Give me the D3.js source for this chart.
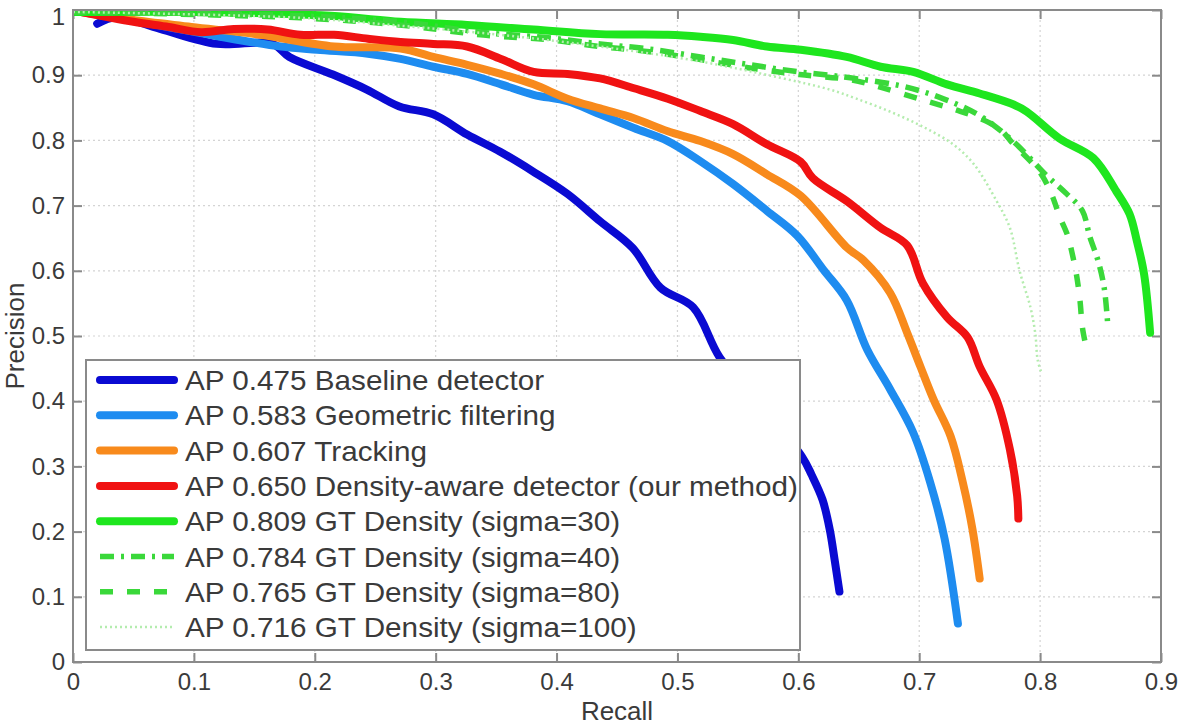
<!DOCTYPE html>
<html>
<head>
<meta charset="utf-8">
<script src="https://cdn.jsdelivr.net/npm/d3@7"></script>
<style>
html,body{margin:0;padding:0;background:#fff;}
svg text{font-family:"Liberation Sans",Arial,Helvetica,sans-serif;}
</style>
</head>
<body>
<svg id="chart" width="1181" height="727"></svg>
<script>
// ---------- data ----------
const xTicks = [0,0.1,0.2,0.3,0.4,0.5,0.6,0.7,0.8,0.9];
const xTickLabels = ["0","0.1","0.2","0.3","0.4","0.5","0.6","0.7","0.8","0.9"];
const yTicks = [0,0.1,0.2,0.3,0.4,0.5,0.6,0.7,0.8,0.9,1];
const yTickLabels = ["0","0.1","0.2","0.3","0.4","0.5","0.6","0.7","0.8","0.9","1"];
const xLabel = "Recall";
const yLabel = "Precision";

const seriesNames = [
  "AP 0.475 Baseline detector",
  "AP 0.583 Geometric filtering",
  "AP 0.607 Tracking",
  "AP 0.650 Density-aware detector (our method)",
  "AP 0.809 GT Density (sigma=30)",
  "AP 0.784 GT Density (sigma=40)",
  "AP 0.765 GT Density (sigma=80)",
  "AP 0.716 GT Density (sigma=100)"
];

const baseline = [[0.020,0.979],[0.036,0.989],[0.072,0.971],[0.119,0.948],[0.165,0.948],[0.179,0.928],[0.215,0.901],[0.243,0.878],[0.270,0.852],[0.298,0.840],[0.326,0.809],[0.353,0.783],[0.380,0.753],[0.409,0.718],[0.436,0.676],[0.463,0.635],[0.486,0.574],[0.513,0.544],[0.535,0.467],[0.568,0.394],[0.603,0.315],[0.611,0.287],[0.620,0.249],[0.626,0.203],[0.630,0.157],[0.634,0.108]];
const geometric = [[0.007,0.997],[0.064,0.979],[0.122,0.959],[0.172,0.944],[0.202,0.939],[0.244,0.933],[0.271,0.925],[0.298,0.913],[0.326,0.902],[0.354,0.886],[0.381,0.870],[0.409,0.860],[0.436,0.840],[0.464,0.819],[0.492,0.799],[0.519,0.768],[0.546,0.733],[0.574,0.692],[0.599,0.654],[0.621,0.601],[0.640,0.555],[0.657,0.479],[0.676,0.418],[0.695,0.352],[0.709,0.276],[0.721,0.189],[0.732,0.059]];
const tracking = [[0.007,0.997],[0.048,0.985],[0.098,0.974],[0.155,0.962],[0.216,0.944],[0.271,0.941],[0.298,0.928],[0.326,0.916],[0.354,0.902],[0.381,0.886],[0.409,0.864],[0.436,0.849],[0.464,0.834],[0.492,0.814],[0.519,0.799],[0.546,0.779],[0.574,0.748],[0.602,0.715],[0.640,0.636],[0.654,0.616],[0.676,0.566],[0.690,0.505],[0.701,0.453],[0.712,0.402],[0.726,0.346],[0.736,0.276],[0.744,0.204],[0.750,0.128]];
const densityAware = [[0.007,0.997],[0.050,0.982],[0.079,0.974],[0.106,0.966],[0.133,0.971],[0.161,0.970],[0.188,0.962],[0.216,0.962],[0.244,0.956],[0.271,0.951],[0.298,0.948],[0.326,0.944],[0.354,0.925],[0.381,0.905],[0.409,0.902],[0.436,0.895],[0.464,0.880],[0.492,0.864],[0.519,0.845],[0.546,0.825],[0.574,0.794],[0.602,0.767],[0.612,0.742],[0.640,0.707],[0.668,0.666],[0.690,0.639],[0.703,0.581],[0.723,0.529],[0.740,0.498],[0.750,0.453],[0.764,0.402],[0.775,0.326],[0.781,0.255],[0.782,0.220]];
const gtSigma30 = [[0.001,0.997],[0.106,0.997],[0.213,0.991],[0.271,0.982],[0.326,0.977],[0.381,0.970],[0.436,0.963],[0.492,0.962],[0.519,0.959],[0.546,0.954],[0.574,0.944],[0.602,0.939],[0.640,0.928],[0.668,0.913],[0.695,0.905],[0.723,0.886],[0.750,0.872],[0.778,0.855],[0.789,0.844],[0.816,0.803],[0.844,0.773],[0.863,0.722],[0.874,0.687],[0.880,0.646],[0.886,0.595],[0.891,0.505]];
const gtSigma40 = [[0.000,0.997],[0.188,0.991],[0.270,0.982],[0.337,0.966],[0.395,0.957],[0.436,0.948],[0.477,0.940],[0.519,0.928],[0.560,0.916],[0.601,0.905],[0.643,0.896],[0.684,0.884],[0.717,0.866],[0.750,0.838],[0.778,0.798],[0.806,0.745],[0.822,0.718],[0.835,0.692],[0.841,0.653],[0.848,0.615],[0.853,0.574],[0.856,0.516]];
const gtSigma80 = [[0.000,0.997],[0.188,0.988],[0.270,0.977],[0.337,0.962],[0.395,0.954],[0.436,0.944],[0.477,0.936],[0.519,0.924],[0.560,0.911],[0.601,0.901],[0.643,0.893],[0.667,0.882],[0.701,0.863],[0.730,0.847],[0.750,0.834],[0.767,0.817],[0.778,0.794],[0.792,0.768],[0.802,0.745],[0.810,0.715],[0.816,0.684],[0.823,0.653],[0.826,0.631],[0.830,0.595],[0.833,0.554],[0.835,0.513],[0.839,0.475]];
const gtSigma100 = [[0.000,0.997],[0.188,0.988],[0.270,0.976],[0.353,0.962],[0.436,0.944],[0.519,0.921],[0.585,0.896],[0.626,0.878],[0.648,0.864],[0.676,0.844],[0.703,0.821],[0.728,0.794],[0.745,0.764],[0.764,0.707],[0.775,0.666],[0.783,0.600],[0.792,0.544],[0.796,0.504],[0.798,0.463],[0.801,0.444]];

const seriesData = [baseline, geometric, tracking, densityAware, gtSigma30, gtSigma40, gtSigma80, gtSigma100];

// ---------- styles ----------
const styles = [
  {color:"#0a0ad2", width:8, dash:null},
  {color:"#1e8cf0", width:8, dash:null},
  {color:"#f88a1c", width:8, dash:null},
  {color:"#f01212", width:8, dash:null},
  {color:"#1ee61e", width:8, dash:null},
  {color:"#3ad83a", width:5.5, dash:"14,7,3,7"},
  {color:"#3ad83a", width:5.5, dash:"13,14"},
  {color:"#b4ecae", width:2.5, dash:"2,3"}
];

// ---------- layout ----------
const svg = d3.select("#chart");
const L = 73, R = 1161, T = 10, B = 662;
const x = d3.scaleLinear().domain([0,0.9]).range([L,R]);
const y = d3.scaleLinear().domain([0,1]).range([B,T]);
const axisColor = "#8a8a8a";
const textColor = "#3a3a3a";

svg.append("defs").append("clipPath").attr("id","plotclip")
  .append("rect").attr("x",L).attr("y",T).attr("width",R-L).attr("height",B-T);

// grid
const grid = svg.append("g");
grid.selectAll("line.gx").data(xTicks.slice(1,-1)).enter().append("line")
  .attr("x1",d=>x(d)).attr("x2",d=>x(d)).attr("y1",T).attr("y2",B)
  .attr("stroke","#d4d4d4").attr("stroke-width",1.2).attr("stroke-dasharray","2,3");
grid.selectAll("line.gy").data(yTicks.slice(1,-1)).enter().append("line")
  .attr("y1",d=>y(d)).attr("y2",d=>y(d)).attr("x1",L).attr("x2",R)
  .attr("stroke","#d4d4d4").attr("stroke-width",1.2).attr("stroke-dasharray","2,3");

// axes
function styleAxis(g){
  g.select(".domain").remove();
  g.selectAll(".tick line").attr("stroke",axisColor).attr("stroke-width",2);
  g.selectAll(".tick text").attr("fill",textColor).style("font-size","24px");
}
const xAxisB = d3.axisBottom(x).tickValues(xTicks).tickFormat((d,i)=>xTickLabels[i]).tickSizeInner(-9).tickSizeOuter(0).tickPadding(11);
svg.append("g").attr("transform",`translate(0,${B})`).call(xAxisB).call(styleAxis);
const xAxisT = d3.axisTop(x).tickValues(xTicks).tickFormat("").tickSizeInner(-9).tickSizeOuter(0);
svg.append("g").attr("transform",`translate(0,${T})`).call(xAxisT).call(styleAxis);
const yAxisL = d3.axisLeft(y).tickValues(yTicks).tickFormat((d,i)=>yTickLabels[i]).tickSizeInner(-9).tickSizeOuter(0).tickPadding(8);
const yAxisG = svg.append("g").attr("transform",`translate(${L},0)`).call(yAxisL).call(styleAxis);
// keep the top "1" label inside the picture
yAxisG.selectAll(".tick text").filter(d=>d===1).attr("dy","0.62em");
const yAxisR = d3.axisRight(y).tickValues(yTicks).tickFormat("").tickSizeInner(-9).tickSizeOuter(0);
svg.append("g").attr("transform",`translate(${R},0)`).call(yAxisR).call(styleAxis);

// lines
const line = d3.line().x(d=>x(d[0])).y(d=>y(d[1])).curve(d3.curveCatmullRom.alpha(0.5));
const lines = svg.append("g").attr("clip-path","url(#plotclip)");
seriesData.forEach((s,i)=>{
  const st = styles[i];
  lines.append("path").datum(s).attr("d",line)
    .attr("fill","none").attr("stroke",st.color).attr("stroke-width",st.width)
    .attr("stroke-linejoin","round").attr("stroke-linecap", st.dash ? "butt" : "round")
    .attr("stroke-dasharray",st.dash);
});

// box
svg.append("rect").attr("x",L).attr("y",T).attr("width",R-L).attr("height",B-T)
  .attr("fill","none").attr("stroke",axisColor).attr("stroke-width",2);

// axis labels
svg.append("text").attr("x",(L+R)/2).attr("y",720).attr("text-anchor","middle")
  .attr("fill",textColor).style("font-size","26px").text(xLabel);
svg.append("text").attr("transform",`translate(24,${(T+B)/2}) rotate(-90)`).attr("text-anchor","middle")
  .attr("fill",textColor).style("font-size","26px").text(yLabel);

// legend
const lg = svg.append("g");
const lgX = 86, lgY = 360, lgW = 714, lgH = 290;
lg.append("rect").attr("x",lgX).attr("y",lgY).attr("width",lgW).attr("height",lgH)
  .attr("fill","#fff").attr("stroke",axisColor).attr("stroke-width",2);
seriesNames.forEach((name,i)=>{
  const st = styles[i];
  const yy = lgY + 20 + i*35.3;
  lg.append("line").attr("x1",100).attr("x2",174).attr("y1",yy).attr("y2",yy)
    .attr("stroke",st.color).attr("stroke-width",st.width).attr("stroke-dasharray",st.dash)
    .attr("stroke-linecap", st.dash ? "butt" : "round");
  lg.append("text").attr("transform",`translate(185,${yy}) scale(1.06,1)`).attr("dy","0.36em")
    .attr("fill",textColor).style("font-size","28px").text(name);
});
</script>
</body>
</html>
